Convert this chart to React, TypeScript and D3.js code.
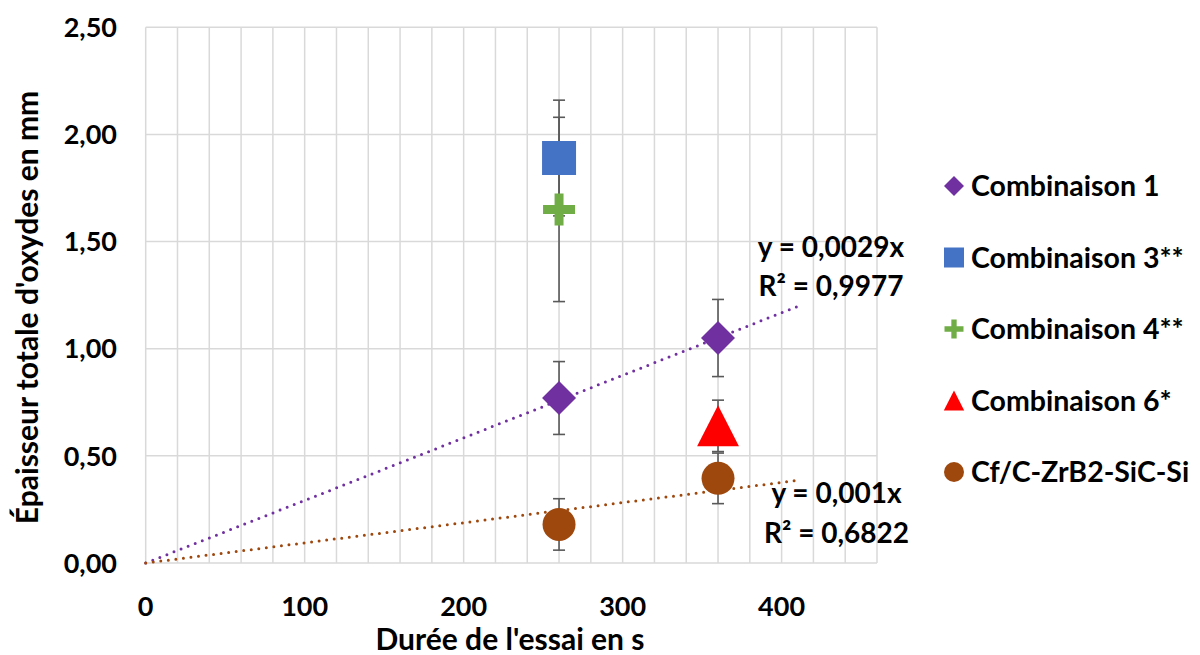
import React from "react";
import * as d3 from "d3";

const seriesNames = ["Combinaison 1", "Combinaison 3**", "Combinaison 4**", "Combinaison 6*", "Cf/C-ZrB2-SiC-Si"];
const seriesColors = ["#7030a0", "#4472c4", "#70ad47", "#ff0000", "#9e480e"];
const seriesShapes = ["diamond", "square", "plus", "triangle", "circle"];
const seriesX = [[260, 360], [260], [260], [360], [260, 360]];
const seriesY = [[0.77, 1.05], [1.89], [1.65], [0.64], [0.18, 0.395]];
const seriesErr = [[0.17, 0.18], [0.27], [0.43], [0.12], [0.12, 0.118]];

const trendSlopes = [0.00292, 0.00094];
const trendColors = ["#7030a0", "#9e480e"];
const trendLabels = [["y = 0,0029x", "R² = 0,9977"], ["y = 0,001x", "R² = 0,6822"]];

const xTicks = [0, 100, 200, 300, 400];
const xGrid = d3.range(0, 461, 20);
const yTicks = [0, 0.5, 1, 1.5, 2, 2.5];

const FONT = "Lato, 'Open Sans', sans-serif";

function markerPath(shape: string, size: number): string {
  const h = size / 2;
  switch (shape) {
    case "diamond":
      return `M0,${-h}L${h},0L0,${h}L${-h},0Z`;
    case "square":
      return `M${-h},${-h}H${h}V${h}H${-h}Z`;
    case "triangle":
      return `M0,${-h}L${h * 1.02},${h}L${-h * 1.02},${h}Z`;
    case "plus": {
      const t = size * 0.14;
      return `M${-t},${-h}H${t}V${-t}H${h}V${t}H${t}V${h}H${-t}V${t}H${-h}V${-t}H${-t}Z`;
    }
    default:
      return `M${h},0A${h},${h} 0 1,1 ${-h},0A${h},${h} 0 1,1 ${h},0Z`;
  }
}

const markerSize: Record<string, number> = { diamond: 34, square: 34, plus: 32, triangle: 41, circle: 33 };
const legendSize: Record<string, number> = { diamond: 20, square: 20, plus: 19, triangle: 20, circle: 20 };

export default function App() {
  const x = d3.scaleLinear().domain([0, 460]).range([145.7, 877]);
  const y = d3.scaleLinear().domain([0, 2.5]).range([563, 27.3]);
  const fmt = (v: number) => v.toFixed(2).replace(".", ",");
  const trendEnd = 410;

  return (
    <svg width={1200} height={655} style={{ position: "absolute", left: 0, top: 0, background: "#fff" }} fontFamily={FONT}>
      {/* grid */}
      {xGrid.map((v) => (
        <line key={"gx" + v} x1={x(v)} x2={x(v)} y1={y(2.5)} y2={y(0)} stroke="#d9d9d9" strokeWidth={1.5} />
      ))}
      {yTicks.map((v) => (
        <line key={"gy" + v} x1={x(0)} x2={x(460)} y1={y(v)} y2={y(v)} stroke="#d9d9d9" strokeWidth={1.5} />
      ))}
      {/* tick labels */}
      {yTicks.map((v) => (
        <text key={"ty" + v} x={117} y={y(v)} dy="0.36em" textAnchor="end" fontSize={27} fontWeight="bold" fill="#000">
          {fmt(v)}
        </text>
      ))}
      {xTicks.map((v) => (
        <text key={"tx" + v} x={x(v)} y={616} textAnchor="middle" fontSize={27} fontWeight="bold" fill="#000">
          {v}
        </text>
      ))}
      {/* axis titles */}
      <text x={510} y={650} textAnchor="middle" fontSize={30} fontWeight="bold" fill="#000">
        Durée de l'essai en s
      </text>
      <text transform={`translate(38,${307.5}) rotate(-90)`} textAnchor="middle" fontSize={30} fontWeight="bold" fill="#000">
        Épaisseur totale d'oxydes en mm
      </text>
      {/* trendlines */}
      {trendSlopes.map((s, i) => (
        <line
          key={"tr" + i}
          x1={x(0)}
          y1={y(0)}
          x2={x(trendEnd)}
          y2={y(s * trendEnd)}
          stroke={trendColors[i]}
          strokeWidth={3}
          strokeLinecap="round"
          strokeDasharray="0 7.6"
        />
      ))}
      {/* error bars */}
      {seriesNames.map((n, si) =>
        seriesX[si].map((xv, j) => {
          const yv = seriesY[si][j];
          const e = seriesErr[si][j];
          const cx = x(xv);
          return (
            <g key={"eb" + si + "-" + j} stroke="#595959" strokeWidth={1.6}>
              <line x1={cx} x2={cx} y1={y(yv - e)} y2={y(yv + e)} />
              <line x1={cx - 6} x2={cx + 6} y1={y(yv - e)} y2={y(yv - e)} />
              <line x1={cx - 6} x2={cx + 6} y1={y(yv + e)} y2={y(yv + e)} />
            </g>
          );
        })
      )}
      {/* markers */}
      {seriesNames.map((n, si) =>
        seriesX[si].map((xv, j) => (
          <path
            key={"m" + si + "-" + j}
            d={markerPath(seriesShapes[si], markerSize[seriesShapes[si]])}
            transform={`translate(${x(xv)},${y(seriesY[si][j])})`}
            fill={seriesColors[si]}
          />
        ))
      )}
      {/* trend labels */}
      <text textAnchor="middle" fontSize={28} fontWeight="bold" fill="#000">
        <tspan x={831} y={257}>{trendLabels[0][0]}</tspan>
        <tspan x={831} y={296}>{trendLabels[0][1]}</tspan>
      </text>
      <text textAnchor="middle" fontSize={28} fontWeight="bold" fill="#000">
        <tspan x={836.5} y={503}>{trendLabels[1][0]}</tspan>
        <tspan x={836.5} y={543}>{trendLabels[1][1]}</tspan>
      </text>
      {/* legend */}
      {seriesNames.map((n, si) => {
        const ly = 186 + si * 71.5;
        return (
          <g key={"lg" + si}>
            <path d={markerPath(seriesShapes[si], legendSize[seriesShapes[si]])} transform={`translate(954,${ly})`} fill={seriesColors[si]} />
            <text x={971} y={ly} dy="0.36em" fontSize={28.5} fontWeight="bold" fill="#000">
              {n}
            </text>
          </g>
        );
      })}
    </svg>
  );
}
